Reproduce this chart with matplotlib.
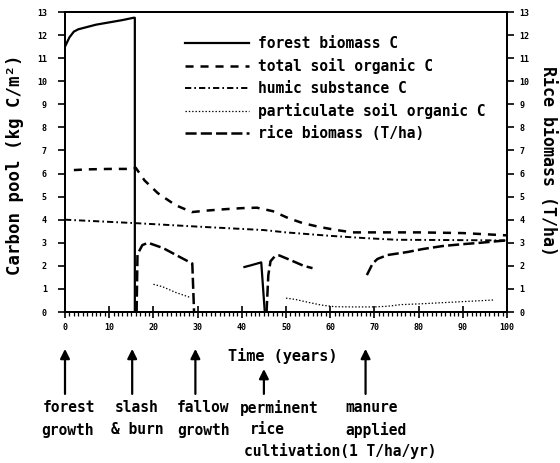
import numpy as np
import matplotlib
matplotlib.use("Agg")
import matplotlib.pyplot as plt

nan = np.nan

# forest biomass C (kg C/m2)
forest_t = [0, 1, 2, 3, 5, 7, 10, 13, 15.5, 15.8, 15.8, nan, 40.6, 42, 44.4, 45.2]
forest_c = [11.5, 11.9, 12.15, 12.25, 12.35, 12.45, 12.55, 12.65, 12.75, 12.75, 0, nan, 1.95, 2.02, 2.15, 0]

# total soil organic C
soil_t = [2, 5, 10, 15.5, 16, 18, 21, 25, 28.7, 32.4, 36.6, 40, 43.4, 47, 50.5, 53.8,
          57.7, 61.5, 65, 70, 80, 90, 100]
soil_c = [6.15, 6.18, 6.2, 6.2, 6.25, 5.7, 5.15, 4.63, 4.33, 4.4, 4.46, 4.5, 4.52, 4.37,
          4.07, 3.85, 3.68, 3.55, 3.45, 3.45, 3.45, 3.42, 3.32]

# humic substance C
humic_t = [0, 16, 30, 40, 45, 50, 60, 68, 75, 85, 100]
humic_c = [4.0, 3.85, 3.7, 3.6, 3.55, 3.45, 3.3, 3.2, 3.13, 3.12, 3.1]

# particulate soil organic C
part_t = [20, 22, 25, 28.5, nan, 50, 52, 55, 58, 61, 65, 70, 73, 76, 80, 85, 90, 97]
part_c = [1.2, 1.1, 0.85, 0.62, nan, 0.6, 0.55, 0.42, 0.3, 0.23, 0.22, 0.22, 0.25,
          0.32, 0.35, 0.4, 0.45, 0.52]

# rice biomass (T/ha)
rice_t = [16.2, 16.4, 17.5, 18.8, 22.2, 26, 28.8, 29.2, nan,
          45.6, 46, 46.5, 47.5, 48.5, 51, 54, 56, nan,
          68.3, 69.6, 70.7, 73, 77.5, 81, 85.5, 90, 94, 98.5, 100]
rice_b = [0, 2.5, 2.9, 3.0, 2.77, 2.38, 2.1, 0, nan,
          0, 1.6, 2.2, 2.42, 2.45, 2.25, 2.0, 1.9, nan,
          1.6, 2.1, 2.3, 2.47, 2.6, 2.73, 2.86, 2.94, 3.0, 3.08, 3.1]

# management events marked under the time axis
event_t = [0, 15.2, 29.5, 45, 68]
event_head = [-0.123, -0.123, -0.123, -0.19, -0.123]

labels = ["forest biomass C", "total soil organic C", "humic substance C",
          "particulate soil organic C", "rice biomass (T/ha)"]

plt.rcParams['font.family'] = ['DejaVu Sans Mono']
plt.rcParams['font.weight'] = 'bold'
plt.rcParams['lines.scale_dashes'] = False

W, H = 560, 463
fig = plt.figure(figsize=(W / 100, H / 100), dpi=100)
ax = fig.add_axes([65 / W, 1 - 312 / H, (507 - 65) / W, 300 / H])

ax.plot(forest_t, forest_c, color='black', lw=1.6, label=labels[0])
ax.plot(soil_t, soil_c, color='black', lw=1.8, ls=(0, (5.8, 5.0)), label=labels[1])
ax.plot(humic_t, humic_c, color='black', lw=1.4, ls=(0, (4.5, 2.2, 1.2, 2.2)), label=labels[2])
ax.plot(part_t, part_c, color='black', lw=0.9, ls=(0, (1.0, 1.4)), label=labels[3])
ax.plot(rice_t, rice_b, color='black', lw=1.8, ls=(0, (8.0, 3.0)), label=labels[4])

ax.set_xlim(0, 100)
ax.set_ylim(0, 13)
ax.set_xticks(np.arange(0, 101, 10))
ax.set_xticks(np.arange(0, 101, 1), minor=True)
ax.set_yticks(np.arange(0, 14, 1))
ax.tick_params(axis='x', which='major', direction='inout', length=8, width=1.2,
               labelsize=6, pad=4)
ax.tick_params(axis='x', which='minor', direction='out', length=3, width=0.9)
ax.tick_params(axis='y', which='major', direction='out', length=5, width=1.2,
               labelsize=6, pad=8)
for s in ax.spines.values():
    s.set_linewidth(1.4)

ax2 = ax.twinx()
ax2.set_ylim(0, 13)
ax2.set_yticks(np.arange(0, 14, 1))
ax2.tick_params(axis='y', direction='out', length=5, width=1.2, labelsize=6, pad=4)
for s in ax2.spines.values():
    s.set_linewidth(1.4)

leg = ax.legend(loc='upper left', bbox_to_anchor=(185 / W, 1 - 36 / H),
                bbox_transform=fig.transFigure, frameon=False, fontsize=10.5,
                handlelength=4.4, handletextpad=0.6, labelspacing=0.48,
                borderaxespad=0, borderpad=0)

fig.text(15 / W, 1 - 165 / H, "Carbon pool (kg C/m²)", rotation=90,
         ha='center', va='center', fontsize=12.5)
fig.text(548 / W, 1 - 161 / H, "Rice biomass (T/ha)", rotation=-90,
         ha='center', va='center', fontsize=12)
fig.text(283 / W, 1 - 356 / H, "Time (years)", ha='center', va='center', fontsize=11)

tx = ax.get_xaxis_transform()
for t, head in zip(event_t, event_head):
    ax.annotate("", xy=(t, head), xycoords=tx, xytext=(t, -0.273), textcoords=tx,
                annotation_clip=False,
                arrowprops=dict(arrowstyle='-|>', color='black', lw=1.6,
                                mutation_scale=14, shrinkA=0, shrinkB=0))

notes = [
    ("forest", 69, 408), ("growth", 67, 430),
    ("slash", 137, 408), ("& burn", 137, 430),
    ("fallow", 203, 408), ("growth", 203, 430),
    ("perminent", 279, 408), ("rice", 267, 430),
    ("cultivation(1 T/ha/yr)", 340, 451),
    ("manure", 372, 408), ("applied", 376, 430),
]
for txt, x, y in notes:
    fig.text(x / W, 1 - y / H, txt, ha='center', va='center', fontsize=10.5)

fig.savefig("out.png", dpi=100)
